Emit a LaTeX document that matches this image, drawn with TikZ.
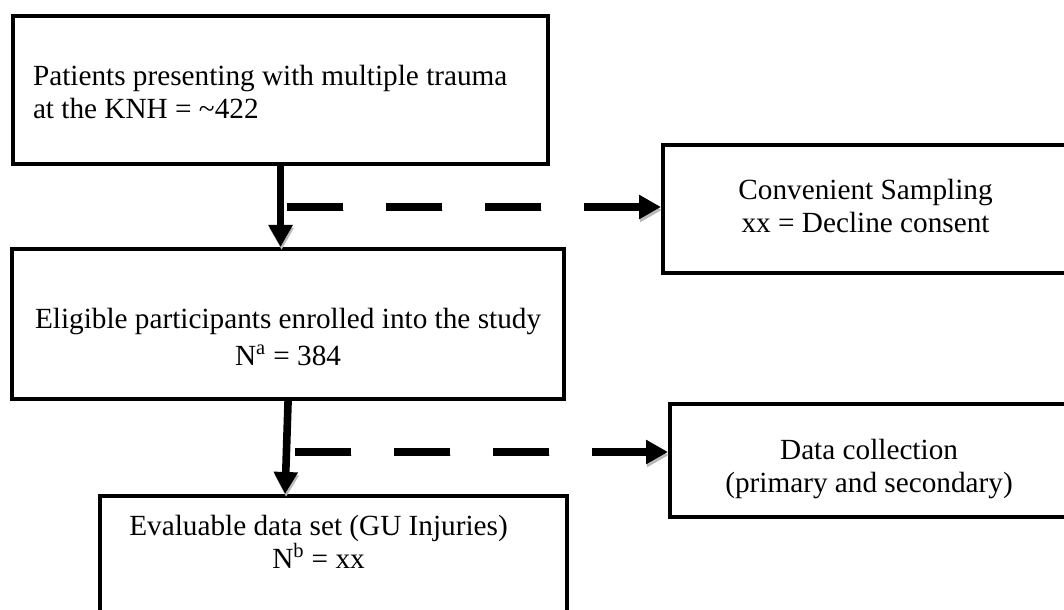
\documentclass[tikz,border=0pt]{standalone}
\usepackage{fontspec}
\setmainfont{Liberation Serif}
\usetikzlibrary{arrows.meta}

\begin{document}
\begin{tikzpicture}[x=0.025cm, y=-0.025cm,
    box/.style={draw, line width=0.1cm, anchor=north west, inner sep=0pt, align=flush center,
      font=\fontsize{20.8pt}{23.5pt}\selectfont},
    shade/.style={preaction={draw=gray!55, transform canvas={shift={(0.025cm,-0.075cm)}}, #1}},
    flow/.style={line width=0.19cm, -{Triangle[length=0.55cm, width=0.575cm]}, shade={}},
    skip/.style={line width=0.19cm, -{Triangle[length=0.55cm, width=0.575cm]},
      dash pattern=on 1.4cm off 1.075cm, shade={dash pattern=on 1.4cm off 1.075cm}}]
  \useasboundingbox (0,0) rectangle (1064,610);

  \node[box, align=flush left, inner xsep=0.5cm, text width=12.375cm,
    text height=1.725cm, text depth=1.975cm] (box1) at (11,14)
    {Patients presenting with multiple trauma\\at the KNH = \textasciitilde 422};
  \node[box, text width=10.125cm, text height=1.35cm, text depth=1.85cm] (box2) at (661,143)
    {Convenient Sampling\\xx = Decline consent};
  \node[box, text width=13.8cm, text height=1.975cm, text depth=1.775cm] (box3) at (10,247)
    {Eligible participants enrolled into the study\\[0.1cm]N\textsuperscript{a} = 384};
  \node[box, text width=9.95cm, text height=1.375cm, text depth=1.45cm] (box4) at (668,402)
    {Data collection\\(primary and secondary)};
  \node[box, text width=11.675cm, text height=0.975cm, text depth=2.675cm] (box5) at (98,494)
    {\hspace*{-0.75cm}Evaluable data set (GU Injuries)\\\hspace*{-0.75cm}N\textsuperscript{b} = xx};

  \coordinate (s1) at (287,207);
  \coordinate (s2) at (295,452);

  \draw[flow] (box1.south) -- (box1.south |- box3.north);
  \draw[skip] (s1) -- (s1 -| box2.west);
  \draw[flow] (box3.south) -- ([xshift=-0.075cm]box3.south |- box5.north);
  \draw[skip] (s2) -- (s2 -| box4.west);
\end{tikzpicture}
\end{document}
